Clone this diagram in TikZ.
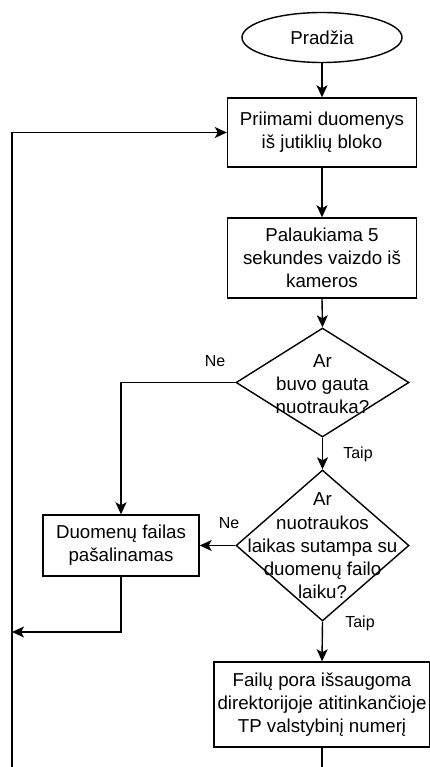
\documentclass[tikz,border=0pt]{standalone}
\usepackage{fontspec}
\setmainfont{Liberation Sans}
\usetikzlibrary{shapes.geometric,arrows.meta}
\begin{document}
\begin{tikzpicture}[x=1pt,y=-1pt,
  every node/.style={font=\fontsize{18.7}{23.3}\selectfont, inner sep=0pt},
  line/.style={line width=1.4pt},
  arr/.style={line, -{Stealth[length=12pt,width=11pt,inset=3pt]}},
  stepbox/.style={draw, line width=1.4pt, rectangle, align=center},
  decision/.style={draw, line width=1.4pt, diamond, shape aspect=1},
  terminal/.style={draw, line width=1.4pt, ellipse, minimum width=160pt, minimum height=50pt},
  lbl/.style={font=\fontsize{16}{19}\selectfont}
]
\useasboundingbox (0,0) rectangle (430,767);
\clip (0,0) rectangle (430,767);

% process nodes
\node[terminal] (start) at (322,37.5) {Pradžia};
\node[stepbox, minimum width=189pt, minimum height=69pt] (b1) at (322,132.5)
  {Priimami duomenys\\iš jutiklių bloko};
\node[stepbox, minimum width=189pt, minimum height=80pt] (b2) at (322,258)
  {Palaukiama 5\\sekundes vaizdo iš\\kameros};

% decisions (outline + separate text)
\node[decision, minimum width=173pt, minimum height=109pt] (d1) at (322.5,382.5) {};
\node[align=center] (d1t) at (322.5,384) {Ar\\buvo gauta\\nuotrauka?};
\node[decision, minimum width=173pt, minimum height=151pt] (d2) at (322.5,545.5) {};
\node[align=center] (d2t) at (322.5,546) {Ar\\nuotraukos\\laikas sutampa su\\duomenų failo\\laiku?};

\node[stepbox, minimum width=156pt, minimum height=61pt] (del) at (121,545.5)
  {Duomenų failas\\pašalinamas};
\node[stepbox, minimum width=216pt, minimum height=85pt] (fin) at (322,704.5)
  {Failų pora išsaugoma\\direktorijoje atitinkančioje\\TP valstybinį numerį};

% branch labels
\node[lbl] (ne1) at (215,361) {Ne};
\node[lbl] (taip1) at (358,454) {Taip};
\node[lbl] (ne2) at (229,523) {Ne};
\node[lbl] (taip2) at (360,623) {Taip};

% loop-back helper points
\coordinate (ret) at (12,632);
\coordinate (downa) at (322,790);
\coordinate (downb) at (12,790);

% connectors
\draw[arr] (start.south) -- (b1.north);
\draw[arr] (b1.south) -- (b2.north);
\draw[arr] (b2.south) -- (d1.north);
\draw[arr] (d1.south) -- (d2.north);
\draw[arr] (d1.west) -| (del.north);
\draw[arr] (d2.west) -- (del.east);
\draw[arr] (d2.south) -- (fin.north);
\draw[arr] (del.south) |- (ret);
\draw[arr] (fin.south) -- (downa) -- (downb) |- (b1.west);
\end{tikzpicture}
\end{document}
